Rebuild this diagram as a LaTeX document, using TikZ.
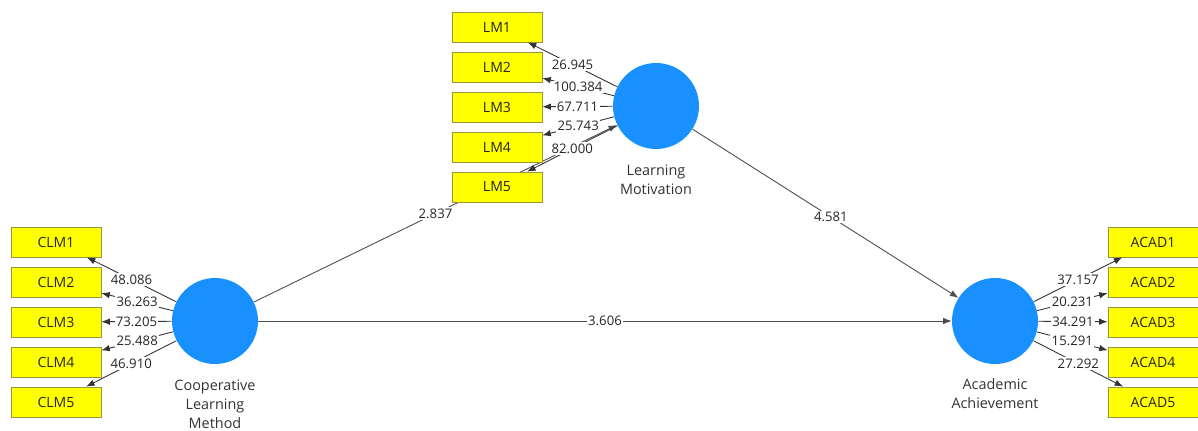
\documentclass[tikz,border=0pt]{standalone}
\usepackage{fontspec}
\setmainfont{Open Sans}
\usepackage{tikz}
\usetikzlibrary{arrows.meta, backgrounds}
\definecolor{lvblue}{RGB}{24,144,255}
\definecolor{mvyellow}{RGB}{255,255,0}
\definecolor{mvborder}{RGB}{150,150,60}

\begin{document}
\begin{tikzpicture}[x=0.02cm,y=-0.02cm,font=\fontsize{7.5}{10.5}\selectfont]
% Styles: latent variables, indicators, paths and values
\tikzstyle{construct}=[circle,fill=lvblue,inner sep=0,minimum size=1.72cm];
\tikzstyle{indicator}=[rectangle,draw=mvborder,fill=mvyellow,inner sep=0,minimum width=1.8cm,minimum height=0.6cm,font=\fontsize{8}{10}\selectfont,text=black!85];
\tikzstyle{lvname}=[align=center,font=\fontsize{8.2}{10.8}\selectfont,text=black!80];
\tikzstyle{loading}=[black!80,line width=0.5pt,-{Latex[length=1.7mm,width=1.3mm]}];
\tikzstyle{path}=[black!70,line width=0.5pt,-{Latex[length=1.7mm,width=1.3mm]}];
\tikzstyle{value}=[fill=white,inner sep=0.8pt,text=black!85];
\useasboundingbox (0,0) rectangle (1198,430);
% Latent variables
\node(CLM)[construct] at (215,321){};
\node(LM)[construct] at (656,106){};
\node(ACAD)[construct] at (995,321){};
\node(CLMname)[lvname] at (215,404){Cooperative\\Learning\\Method};
\node(LMname)[lvname] at (656,180){Learning\\Motivation};
\node(ACADname)[lvname] at (995,394){Academic\\Achievement};
% Indicators
\foreach \i/\y in {1/27,2/67,3/107,4/147,5/187}
\node(LM\i)[indicator] at (497,\y){LM\i};
\foreach \i/\y in {1/242,2/282,3/322,4/362,5/402}
\node(CLM\i)[indicator] at (56,\y){CLM\i};
\foreach \i/\y in {1/242,2/282,3/322,4/362,5/402}
\node(ACAD\i)[indicator] at (1153,\y){ACAD\i};
% Inner model
\begin{scope}[on background layer]
\draw[path](CLM)--node[value]{2.837}(LM);
\draw[path](CLM)--node[value]{3.606}(ACAD);
\draw[path](LM)--node[value,pos=0.52]{4.581}(ACAD);
\end{scope}
% Outer loadings
\foreach \i/\v in {1/26.945,2/100.384,3/67.711,4/25.743,5/82.000}
\draw[loading](LM)--node[value]{\v}(LM\i);
\foreach \i/\v in {1/48.086,2/36.263,3/73.205,4/25.488,5/46.910}
\draw[loading](CLM)--node[value]{\v}(CLM\i);
\foreach \i/\v in {1/37.157,2/20.231,3/34.291,4/15.291,5/27.292}
\draw[loading](ACAD)--node[value]{\v}(ACAD\i);
\end{tikzpicture}
\end{document}
